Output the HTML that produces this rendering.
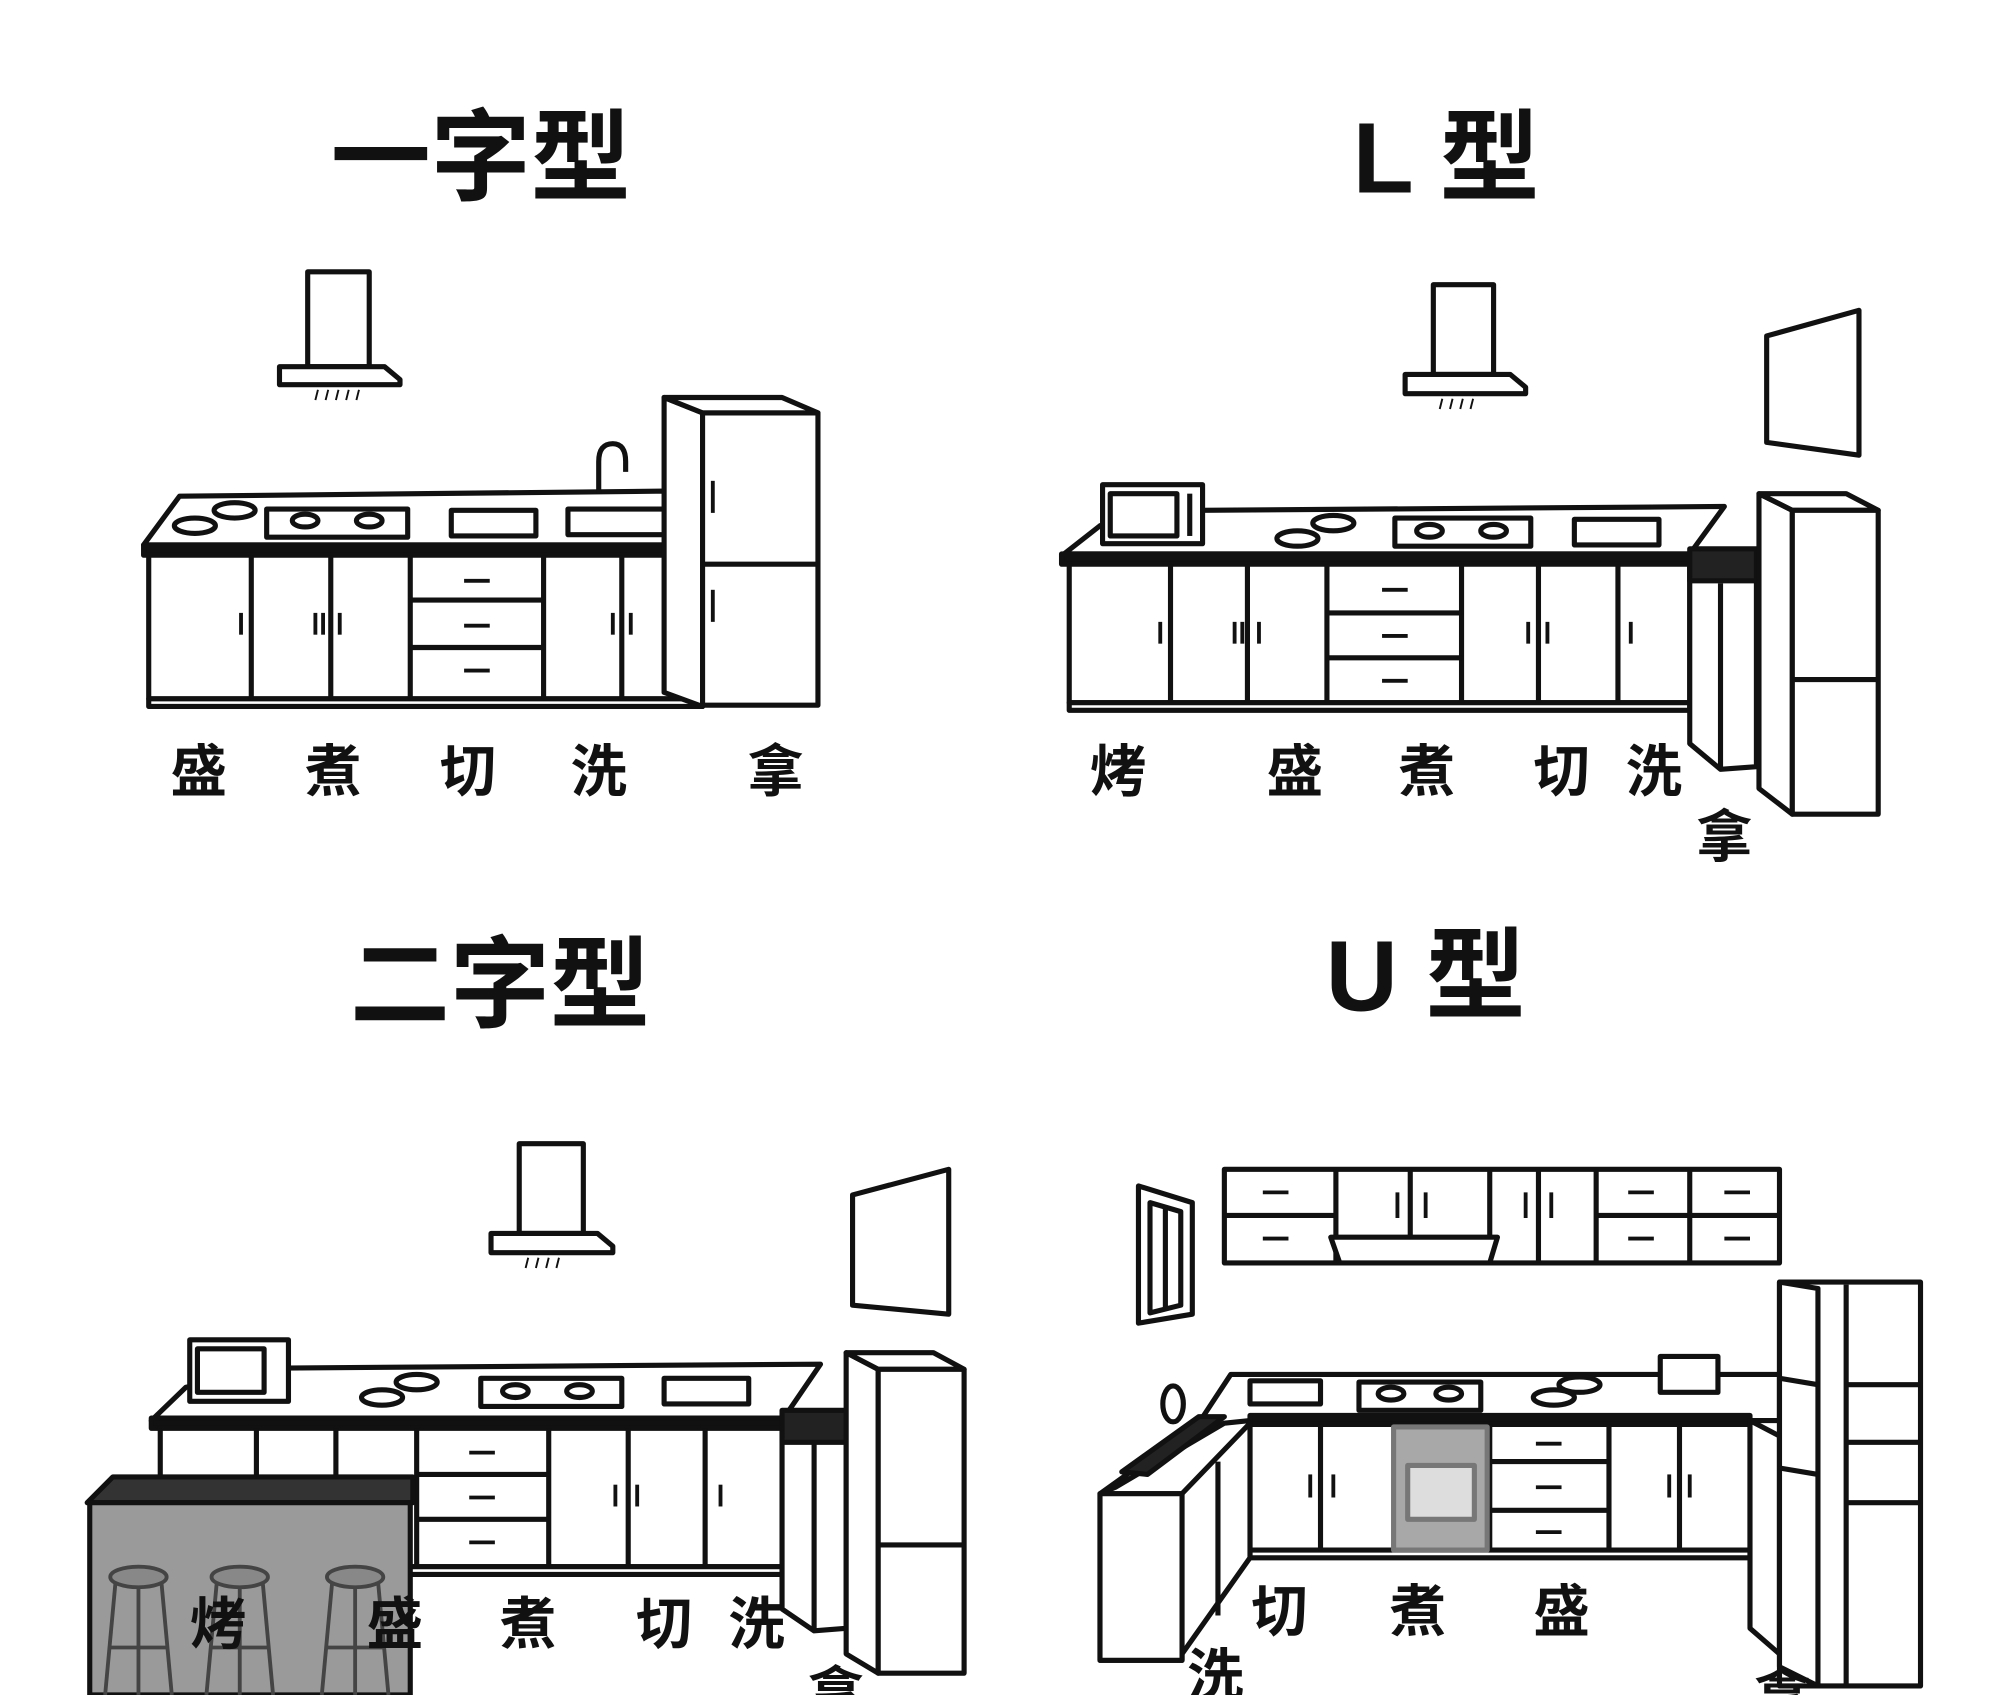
<!DOCTYPE html>
<html><head><meta charset="utf-8"><style>
html,body{margin:0;padding:0;background:#fff}
svg{display:block}
text{font-family:"Liberation Sans","Noto Sans CJK SC",sans-serif;font-weight:bold;fill:#111}
</style></head><body>
<svg width="2000" height="1695" viewBox="0 0 1560 1322" xmlns="http://www.w3.org/2000/svg">
<text x="375" y="150" font-size="78" text-anchor="middle">一字型</text>
<text x="1128" y="150" font-size="78" text-anchor="middle">L 型</text>
<text x="390" y="795" font-size="78" text-anchor="middle">二字型</text>
<text x="1112" y="788" font-size="78" text-anchor="middle">U 型</text>

<g fill="#fff" stroke="#111" stroke-width="4" stroke-linejoin="round">
<!-- ===== Panel 1 ===== -->
<rect x="240" y="212" width="48" height="74"/>
<polygon points="218,286 300,286 312,296 312,300 218,300"/>
<g stroke-width="1.5"><line x1="248" y1="304" x2="246" y2="312"/><line x1="256" y1="304" x2="254" y2="312"/><line x1="264" y1="304" x2="262" y2="312"/><line x1="272" y1="304" x2="270" y2="312"/><line x1="280" y1="304" x2="278" y2="312"/></g>
<polygon points="140,387 520,383 548,425 112,425"/>
<rect x="112" y="425" width="436" height="8" fill="#111"/>
<rect x="116" y="433" width="430" height="112"/>
<rect x="116" y="545" width="432" height="6"/>
<line x1="196" y1="433" x2="196" y2="545"/><line x1="258" y1="433" x2="258" y2="545"/><line x1="320" y1="433" x2="320" y2="545"/><line x1="424" y1="433" x2="424" y2="545"/><line x1="485" y1="433" x2="485" y2="545"/>
<line x1="320" y1="468" x2="424" y2="468"/><line x1="320" y1="505" x2="424" y2="505"/>
<g stroke-width="3"><line x1="188" y1="478" x2="188" y2="495"/><line x1="246" y1="478" x2="246" y2="495"/><line x1="252" y1="478" x2="252" y2="495"/><line x1="265" y1="478" x2="265" y2="495"/><line x1="478" y1="478" x2="478" y2="495"/><line x1="492" y1="478" x2="492" y2="495"/><line x1="362" y1="453" x2="382" y2="453"/><line x1="362" y1="488" x2="382" y2="488"/><line x1="362" y1="523" x2="382" y2="523"/></g>
<ellipse cx="183" cy="398" rx="16" ry="6"/><ellipse cx="152" cy="410" rx="16" ry="6"/>
<rect x="208" y="397" width="110" height="22"/><ellipse cx="238" cy="406" rx="10" ry="5"/><ellipse cx="288" cy="406" rx="10" ry="5"/>
<rect x="352" y="398" width="66" height="20"/><rect x="443" y="397" width="78" height="20"/>
<path d="M467 385 V360 Q467 346 478 346 Q488 346 488 360 V368" fill="none"/>
<polygon points="518,310 548,322 548,551 518,540"/>
<polygon points="518,310 610,310 638,322 548,322"/>
<rect x="548" y="322" width="90" height="228"/>
<line x1="548" y1="440" x2="638" y2="440"/>
<g stroke-width="3"><line x1="556" y1="375" x2="556" y2="400"/><line x1="556" y1="460" x2="556" y2="485"/></g>

<!-- ===== Panel 2 ===== -->
<rect x="1118" y="222" width="47" height="70"/>
<polygon points="1096,292 1178,292 1190,302 1190,307 1096,307"/>
<g stroke-width="1.5"><line x1="1125" y1="311" x2="1123" y2="319"/><line x1="1133" y1="311" x2="1131" y2="319"/><line x1="1141" y1="311" x2="1139" y2="319"/><line x1="1149" y1="311" x2="1147" y2="319"/></g>
<polygon points="1378,262 1450,242 1450,355 1378,345"/>
<polygon points="937,398 1345,395 1318,432 830,432 858,410"/>
<rect x="828" y="432" width="490" height="8" fill="#111"/>
<rect x="834" y="440" width="484" height="108"/>
<rect x="834" y="548" width="484" height="6"/>
<line x1="913" y1="440" x2="913" y2="548"/><line x1="973" y1="440" x2="973" y2="548"/><line x1="1035" y1="440" x2="1035" y2="548"/><line x1="1140" y1="440" x2="1140" y2="548"/><line x1="1200" y1="440" x2="1200" y2="548"/><line x1="1262" y1="440" x2="1262" y2="548"/>
<line x1="1035" y1="478" x2="1140" y2="478"/><line x1="1035" y1="513" x2="1140" y2="513"/>
<g stroke-width="3"><line x1="905" y1="485" x2="905" y2="502"/><line x1="963" y1="485" x2="963" y2="502"/><line x1="969" y1="485" x2="969" y2="502"/><line x1="982" y1="485" x2="982" y2="502"/><line x1="1192" y1="485" x2="1192" y2="502"/><line x1="1207" y1="485" x2="1207" y2="502"/><line x1="1272" y1="485" x2="1272" y2="502"/><line x1="1078" y1="460" x2="1098" y2="460"/><line x1="1078" y1="496" x2="1098" y2="496"/><line x1="1078" y1="531" x2="1098" y2="531"/></g>
<rect x="860" y="378" width="78" height="46"/><rect x="866" y="385" width="52" height="33"/><line x1="928" y1="385" x2="928" y2="418"/>
<ellipse cx="1040" cy="408" rx="16" ry="6"/><ellipse cx="1012" cy="420" rx="16" ry="6"/>
<rect x="1088" y="404" width="106" height="22"/><ellipse cx="1115" cy="414" rx="10" ry="5"/><ellipse cx="1165" cy="414" rx="10" ry="5"/>
<rect x="1228" y="405" width="66" height="20"/>
<polygon points="1318,432 1370,432 1370,598 1342,600 1318,580"/>
<line x1="1342" y1="455" x2="1342" y2="600"/>
<rect x="1318" y="428" width="52" height="25" fill="#222"/>
<polygon points="1372,385 1398,398 1398,635 1372,615"/>
<polygon points="1372,385 1440,385 1465,398 1398,398"/>
<rect x="1398" y="398" width="67" height="237"/>
<line x1="1398" y1="530" x2="1465" y2="530"/>

<!-- ===== Panel 3 ===== -->
<rect x="405" y="892" width="50" height="70"/>
<polygon points="383,962 466,962 478,972 478,977 383,977"/>
<g stroke-width="1.5"><line x1="412" y1="981" x2="410" y2="989"/><line x1="420" y1="981" x2="418" y2="989"/><line x1="428" y1="981" x2="426" y2="989"/><line x1="436" y1="981" x2="434" y2="989"/></g>
<polygon points="665,932 740,912 740,1025 665,1018"/>
<polygon points="222,1067 640,1064 610,1108 118,1108 145,1082"/>
<rect x="118" y="1106" width="492" height="8" fill="#111"/>
<rect x="125" y="1114" width="485" height="108"/>
<rect x="125" y="1222" width="485" height="6"/>
<line x1="200" y1="1114" x2="200" y2="1222"/><line x1="262" y1="1114" x2="262" y2="1222"/><line x1="325" y1="1114" x2="325" y2="1222"/><line x1="428" y1="1114" x2="428" y2="1222"/><line x1="490" y1="1114" x2="490" y2="1222"/><line x1="550" y1="1114" x2="550" y2="1222"/>
<line x1="325" y1="1150" x2="428" y2="1150"/><line x1="325" y1="1185" x2="428" y2="1185"/>
<g stroke-width="3"><line x1="480" y1="1158" x2="480" y2="1175"/><line x1="497" y1="1158" x2="497" y2="1175"/><line x1="562" y1="1158" x2="562" y2="1175"/><line x1="366" y1="1133" x2="386" y2="1133"/><line x1="366" y1="1168" x2="386" y2="1168"/><line x1="366" y1="1203" x2="386" y2="1203"/></g>
<rect x="148" y="1045" width="77" height="48"/><rect x="154" y="1052" width="52" height="34"/>
<ellipse cx="325" cy="1078" rx="16" ry="6"/><ellipse cx="298" cy="1090" rx="16" ry="6"/>
<rect x="375" y="1075" width="110" height="22"/><ellipse cx="402" cy="1085" rx="10" ry="5"/><ellipse cx="452" cy="1085" rx="10" ry="5"/>
<rect x="518" y="1075" width="66" height="20"/>
<polygon points="610,1105 660,1105 660,1270 635,1272 610,1255"/>
<line x1="635" y1="1125" x2="635" y2="1272"/>
<rect x="610" y="1100" width="52" height="25" fill="#222"/>
<polygon points="660,1055 685,1068 685,1305 660,1290"/>
<polygon points="660,1055 728,1055 752,1068 685,1068"/>
<rect x="685" y="1068" width="67" height="237"/>
<line x1="685" y1="1205" x2="752" y2="1205"/>
<!-- island -->
<polygon points="68,1172 88,1152 322,1152 322,1172" fill="#333"/>
<rect x="70" y="1172" width="250" height="150" fill="#9a9a9a"/>
<g stroke="#444" stroke-width="3" fill="none">
<ellipse cx="108" cy="1230" rx="22" ry="8" fill="#888"/><line x1="90" y1="1235" x2="82" y2="1322"/><line x1="126" y1="1235" x2="134" y2="1322"/><line x1="108" y1="1238" x2="108" y2="1322"/><line x1="85" y1="1285" x2="131" y2="1285"/>
<ellipse cx="187" cy="1230" rx="22" ry="8" fill="#888"/><line x1="169" y1="1235" x2="161" y2="1322"/><line x1="205" y1="1235" x2="213" y2="1322"/><line x1="187" y1="1238" x2="187" y2="1322"/><line x1="164" y1="1285" x2="210" y2="1285"/>
<ellipse cx="277" cy="1230" rx="22" ry="8" fill="#888"/><line x1="259" y1="1235" x2="251" y2="1322"/><line x1="295" y1="1235" x2="303" y2="1322"/><line x1="277" y1="1238" x2="277" y2="1322"/><line x1="254" y1="1285" x2="300" y2="1285"/>
</g>

<!-- ===== Panel 4 ===== -->
<polygon points="888,925 930,938 930,1025 888,1032"/>
<polygon points="897,938 921,945 921,1018 897,1024"/>
<line x1="909" y1="941" x2="909" y2="1021"/>
<rect x="955" y="912" width="433" height="73"/>
<line x1="955" y1="948" x2="1042" y2="948"/><line x1="1245" y1="948" x2="1388" y2="948"/>
<line x1="1042" y1="912" x2="1042" y2="985"/><line x1="1100" y1="912" x2="1100" y2="965"/><line x1="1162" y1="912" x2="1162" y2="985"/><line x1="1200" y1="912" x2="1200" y2="985"/><line x1="1245" y1="912" x2="1245" y2="985"/><line x1="1318" y1="912" x2="1318" y2="985"/>
<polygon points="1038,965 1168,965 1162,985 1045,985"/>
<g stroke-width="3"><line x1="985" y1="930" x2="1005" y2="930"/><line x1="985" y1="966" x2="1005" y2="966"/><line x1="1270" y1="930" x2="1290" y2="930"/><line x1="1270" y1="966" x2="1290" y2="966"/><line x1="1345" y1="930" x2="1365" y2="930"/><line x1="1345" y1="966" x2="1365" y2="966"/><line x1="1090" y1="930" x2="1090" y2="950"/><line x1="1112" y1="930" x2="1112" y2="950"/><line x1="1190" y1="930" x2="1190" y2="950"/><line x1="1210" y1="930" x2="1210" y2="950"/></g>
<polygon points="960,1072 1388,1072 1388,1108 975,1108 955,1110 870,1160 858,1165 935,1110"/>
<rect x="975" y="1104" width="390" height="7" fill="#111"/>
<rect x="975" y="1111" width="390" height="98"/>
<rect x="975" y="1209" width="390" height="6"/>
<line x1="1030" y1="1111" x2="1030" y2="1209"/><line x1="1162" y1="1111" x2="1162" y2="1209"/><line x1="1255" y1="1111" x2="1255" y2="1209"/><line x1="1310" y1="1111" x2="1310" y2="1209"/>
<line x1="1162" y1="1140" x2="1255" y2="1140"/><line x1="1162" y1="1178" x2="1255" y2="1178"/>
<g stroke-width="3"><line x1="1022" y1="1150" x2="1022" y2="1168"/><line x1="1040" y1="1150" x2="1040" y2="1168"/><line x1="1302" y1="1150" x2="1302" y2="1168"/><line x1="1318" y1="1150" x2="1318" y2="1168"/><line x1="1198" y1="1126" x2="1218" y2="1126"/><line x1="1198" y1="1160" x2="1218" y2="1160"/><line x1="1198" y1="1195" x2="1218" y2="1195"/></g>
<rect x="1087" y="1113" width="73" height="96" fill="#a8a8a8" stroke="#777"/>
<rect x="1098" y="1143" width="52" height="42" fill="#ddd" stroke="#777"/>
<rect x="1060" y="1078" width="95" height="22"/><ellipse cx="1085" cy="1087" rx="10" ry="5"/><ellipse cx="1130" cy="1087" rx="10" ry="5"/>
<rect x="975" y="1077" width="55" height="18"/>
<ellipse cx="1232" cy="1080" rx="16" ry="6"/><ellipse cx="1212" cy="1090" rx="16" ry="6"/>
<rect x="1295" y="1058" width="45" height="28"/>
<!-- left return -->
<polygon points="858,1165 922,1165 975,1110 975,1215 922,1290 922,1295 858,1295"/>
<rect x="858" y="1165" width="64" height="130"/>
<line x1="950" y1="1140" x2="950" y2="1260"/>
<polygon points="875,1148 935,1105 955,1105 895,1150" fill="#222"/>
<ellipse cx="915" cy="1095" rx="8" ry="14"/>
<!-- right tall unit -->
<polygon points="1365,1108 1388,1120 1388,1290 1365,1270"/>
<rect x="1388" y="1000" width="110" height="315"/>
<polygon points="1388,1000 1418,1005 1418,1315 1388,1300"/>
<line x1="1440" y1="1002" x2="1440" y2="1315"/><line x1="1440" y1="1080" x2="1498" y2="1080"/><line x1="1440" y1="1125" x2="1498" y2="1125"/><line x1="1440" y1="1172" x2="1498" y2="1172"/>
<line x1="1388" y1="1075" x2="1418" y2="1080"/><line x1="1388" y1="1145" x2="1418" y2="1150"/>
</g>

<!-- labels -->
<g font-size="44">
<text x="155" y="617" text-anchor="middle">盛</text>
<text x="260" y="617" text-anchor="middle">煮</text>
<text x="365" y="617" text-anchor="middle">切</text>
<text x="467" y="617" text-anchor="middle">洗</text>
<text x="605" y="617" text-anchor="middle">拿</text>
<text x="872" y="617" text-anchor="middle">烤</text>
<text x="1010" y="617" text-anchor="middle">盛</text>
<text x="1113" y="617" text-anchor="middle">煮</text>
<text x="1218" y="617" text-anchor="middle">切</text>
<text x="1290" y="617" text-anchor="middle">洗</text>
<text x="1345" y="668" text-anchor="middle">拿</text>
<text x="170" y="1282" text-anchor="middle">烤</text>
<text x="308" y="1282" text-anchor="middle">盛</text>
<text x="412" y="1282" text-anchor="middle">煮</text>
<text x="518" y="1282" text-anchor="middle">切</text>
<text x="590" y="1282" text-anchor="middle">洗</text>
<text x="652" y="1336" text-anchor="middle">拿</text>
<text x="998" y="1272" text-anchor="middle">切</text>
<text x="1106" y="1272" text-anchor="middle">煮</text>
<text x="1218" y="1272" text-anchor="middle">盛</text>
<text x="948" y="1322" text-anchor="middle">洗</text>
<text x="1390" y="1338" text-anchor="middle">拿</text>
</g>
</svg>
</body></html>
